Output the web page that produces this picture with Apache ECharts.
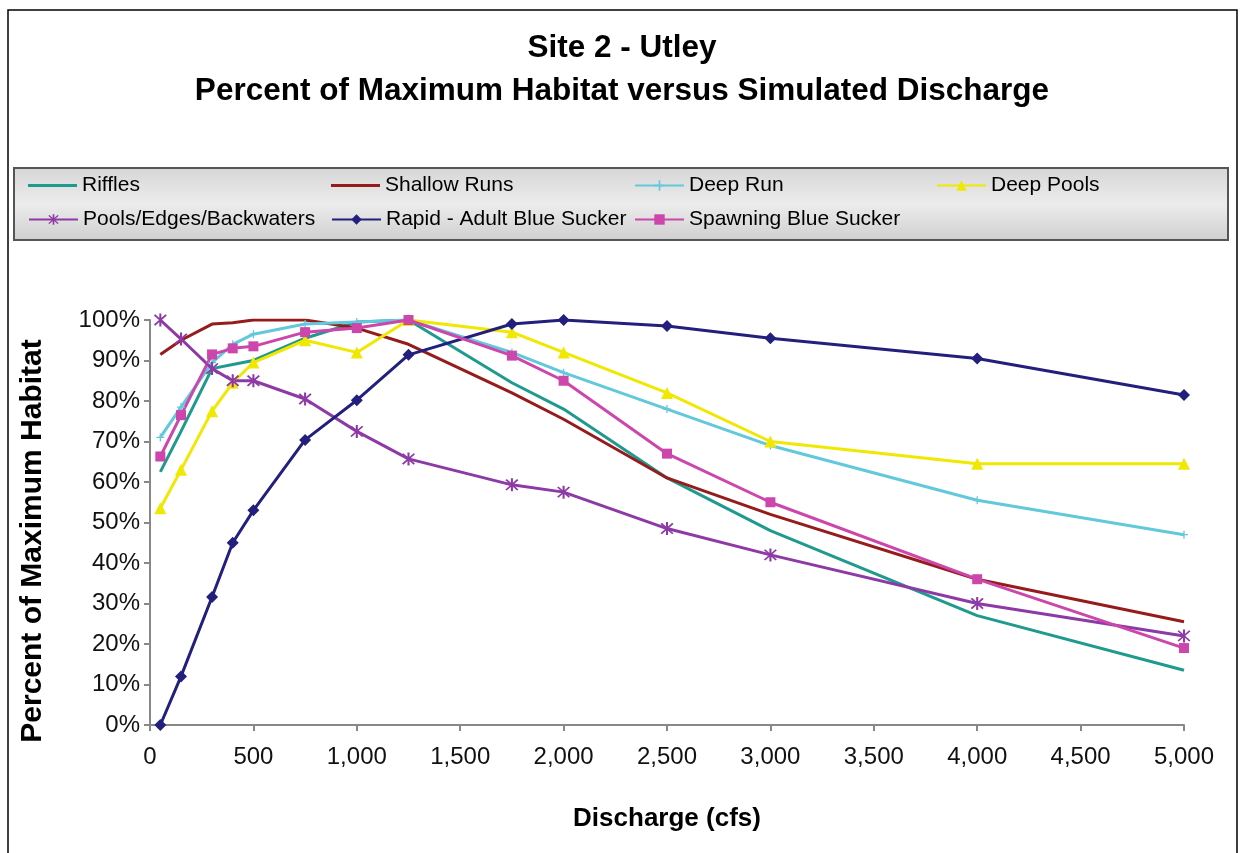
<!DOCTYPE html>
<html>
<head>
<meta charset="utf-8">
<title>Site 2 - Utley</title>
<script src="https://cdn.jsdelivr.net/npm/echarts@6/dist/echarts.min.js"></script>
<style>
html, body { margin: 0; padding: 0; background: #fff; }
#chart { width: 1244px; height: 853px; }
</style>
</head>
<body>
<div id="chart"></div>
<script>
// discharge (cfs) where each value was simulated
var discharge = [50, 150, 300, 400, 500, 750, 1000, 1250, 1750, 2000, 2500, 3000, 4000, 5000];

// percent of maximum habitat, one list per habitat type
var riffles      = [62.5, 72.5, 88, 89, 90, 95.5, 99.5, 100, 84.5, 78, 61, 48, 27, 13.5];
var shallowRuns  = [91.5, 95, 99, 99.3, 100, 100, 98, 94, 82, 75.5, 61, 52, 36, 25.5];
var deepRun      = [71, 78.5, 89.5, 94, 96.5, 99, 99.5, 100, 92, 87, 78, 69, 55.5, 47];
var deepPools    = [53.5, 63, 77.5, 84.5, 89.5, 95, 92, 100, 97, 92, 82, 70, 64.5, 64.5];
var poolsEdges   = [100, 95.3, 88, 85, 85, 80.5, 72.5, 65.7, 59.3, 57.5, 48.5, 42, 30, 22];
var rapidAdult   = [0, 12, 31.6, 45, 53, 70.4, 80.2, 91.4, 99, 100, 98.5, 95.5, 90.5, 81.5];
var spawning     = [66.3, 76.5, 91.5, 93, 93.5, 97, 98, 100, 91.2, 85, 67, 55, 36, 19];

var seriesNames = ['Riffles', 'Shallow Runs', 'Deep Run', 'Deep Pools',
                   'Pools/Edges/Backwaters', 'Rapid - Adult Blue Sucker', 'Spawning Blue Sucker'];

var FONT = "'Liberation Sans', Arial, sans-serif";

function pairs(vals){
    var out = [];
    for(var i=0;i<discharge.length;i++){
        out.push([discharge[i], vals[i]]);
    }
    return out;
}

var starPath = 'path://M4.3,0H5.7V10H4.3Z M0.6,1.5L1.5,0.6L9.4,8.5L8.5,9.4Z M8.5,0.6L9.4,1.5L1.5,9.4L0.6,8.5Z';
var plusPath = 'path://M4.2,0H5.8V10H4.2Z M0,4.2H10V5.8H0Z';

function lineSeries(name, vals, color, symbol, size){
    return {
        name: name,
        type: 'line',
        data: pairs(vals),
        symbol: symbol,
        symbolSize: size,
        showSymbol: symbol != 'none',
        lineStyle: { color: color, width: 3 },
        itemStyle: { color: color },
        emphasis: { disabled: true }
    };
}

// one small legend per item so the grid layout matches
function legendItem(name, x, y, plain){
    var lg = {
        data: [name],
        left: x,
        top: y,
        padding: 0,
        itemWidth: 49,
        itemHeight: 13,
        selectedMode: false,
        textStyle: { fontSize: 21, fontFamily: FONT, color: '#000' }
    };
    if(plain){
        lg.icon = 'rect';
        lg.itemHeight = 3;
    }
    return lg;
}

var myChart = echarts.init(document.getElementById('chart'));

var option = {
    backgroundColor: '#fff',
    animation: false,
    title: {
        text: 'Site 2 - Utley\nPercent of Maximum Habitat versus Simulated Discharge',
        left: 'center',
        top: 22,
        textStyle: {
            fontSize: 31.5,
            fontWeight: 'bold',
            fontFamily: FONT,
            color: '#000',
            lineHeight: 43,
            align: 'center'
        }
    },
    graphic: [
        {
            type: 'rect',
            z: 0,
            shape: { x: 8, y: 10, width: 1229, height: 870 },
            style: { fill: 'none', stroke: '#000', lineWidth: 1.5 }
        },
        {
            type: 'rect',
            z: 0,
            shape: { x: 14, y: 168, width: 1214, height: 72 },
            style: {
                fill: new echarts.graphic.LinearGradient(0, 0, 0, 1, [
                    { offset: 0, color: '#d6d6d6' },
                    { offset: 0.5, color: '#ececec' },
                    { offset: 1, color: '#cfcfcf' }
                ]),
                stroke: '#555',
                lineWidth: 2
            }
        },
        {
            type: 'text',
            z: 5,
            x: 33,
            y: 541,
            rotation: Math.PI / 2,
            style: {
                text: 'Percent of Maximum Habitat',
                font: 'bold 30px ' + FONT,
                fill: '#000',
                align: 'center',
                verticalAlign: 'middle'
            }
        }
    ],
    legend: [
        legendItem('Riffles', 28, 175, true),
        legendItem('Shallow Runs', 331, 175, true),
        legendItem('Deep Run', 634, 175),
        legendItem('Deep Pools', 936, 175),
        legendItem('Pools/Edges/Backwaters', 28, 209),
        legendItem('Rapid - Adult Blue Sucker', 331, 209),
        legendItem('Spawning Blue Sucker', 634, 209)
    ],
    grid: {
        left: 150,
        right: 60,
        top: 320,
        bottom: 128,
        containLabel: false
    },
    xAxis: {
        type: 'value',
        min: 0,
        max: 5000,
        interval: 500,
        name: 'Discharge (cfs)',
        nameLocation: 'middle',
        nameGap: 81,
        nameTextStyle: { fontSize: 26, fontWeight: 'bold', fontFamily: FONT, color: '#000' },
        axisLine: { lineStyle: { color: '#888', width: 2 } },
        axisTick: { show: true, length: 6, lineStyle: { color: '#888', width: 2 } },
        axisLabel: {
            fontSize: 24,
            fontFamily: FONT,
            color: '#111',
            margin: 20,
            formatter: function (v) { return v.toLocaleString('en-US'); }
        },
        splitLine: { show: false }
    },
    yAxis: {
        type: 'value',
        min: 0,
        max: 100,
        interval: 10,
        axisLine: { show: true, lineStyle: { color: '#888', width: 2 } },
        axisTick: { show: true, length: 6, lineStyle: { color: '#888', width: 2 } },
        axisLabel: {
            fontSize: 24,
            fontFamily: FONT,
            color: '#111',
            margin: 10,
            formatter: '{value}%'
        },
        splitLine: { show: false }
    },
    series: [
        lineSeries(seriesNames[0], riffles, '#1f9a8e', 'none', 0),
        lineSeries(seriesNames[1], shallowRuns, '#961c1c', 'none', 0),
        lineSeries(seriesNames[2], deepRun, '#62c8dc', plusPath, 8),
        lineSeries(seriesNames[3], deepPools, '#f0e800', 'triangle', 12),
        lineSeries(seriesNames[4], poolsEdges, '#8e3aa6', starPath, 13),
        lineSeries(seriesNames[5], rapidAdult, '#231f7d', 'diamond', 12),
        lineSeries(seriesNames[6], spawning, '#cc46ac', 'rect', 10)
    ]
};

myChart.setOption(option);
window.onresize = function() {
    myChart.resize();
}
</script>
</body>
</html>
